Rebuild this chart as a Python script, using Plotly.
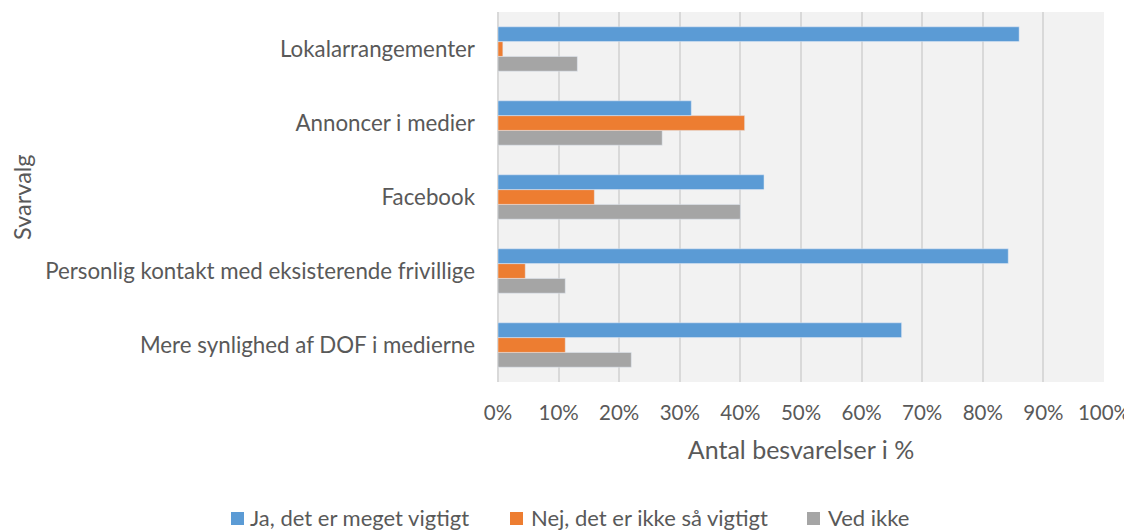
import plotly.graph_objects as go

categories = ["Mere synlighed af DOF i medierne",
              "Personlig kontakt med eksisterende frivillige",
              "Facebook",
              "Annoncer i medier",
              "Lokalarrangementer"]
ja = [66.6, 84.2, 43.9, 31.9, 86.0]
nej = [11.1, 4.5, 15.9, 40.7, 0.8]
ved_ikke = [22.0, 11.1, 40.0, 27.1, 13.1]
tick_vals = [0, 10, 20, 30, 40, 50, 60, 70, 80, 90, 100]
tick_text = [f"{v}%" for v in tick_vals]
series_names = ["Ja, det er meget vigtigt", "Nej, det er ikke så vigtigt", "Ved ikke"]
series_colors = ["#5B9BD5", "#ED7D31", "#A5A5A5"]

font_family = "Lato, Open Sans, sans-serif"
text_color = "#595959"

# page has 8px body margin -> figure is 8px smaller and shifted
OFF = 8
W, H = 1132 - OFF, 532 - OFF
L, R, T, B = 498 - OFF, 28, 12 - OFF, 150
plot_w = W - L - R
plot_h = H - T - B


def px_x(x):
    return (x - OFF - L) / plot_w


def px_y(y):
    return (H - B - (y - OFF)) / plot_h


fig = go.Figure()
for name, vals, color in [(series_names[2], ved_ikke, series_colors[2]),
                          (series_names[1], nej, series_colors[1]),
                          (series_names[0], ja, series_colors[0])]:
    fig.add_trace(go.Bar(y=categories, x=vals, name=name, orientation="h",
                         marker=dict(color=color), showlegend=False))

fig.update_layout(
    width=W, height=H,
    margin=dict(l=L, r=R, t=T, b=B, autoexpand=False),
    barmode="group", bargap=0.4, bargroupgap=0,
    plot_bgcolor="#F2F2F2", paper_bgcolor="white",
    font=dict(family=font_family, size=22, color=text_color),
    showlegend=False,
)
fig.update_xaxes(range=[0, 100], tickvals=tick_vals, ticktext=tick_text,
                 showgrid=True, gridcolor="#D9D9D9", gridwidth=1.5,
                 zeroline=True, zerolinecolor="#D9D9D9", zerolinewidth=1.5,
                 showline=False, ticks="", ticklabelstandoff=16, automargin=False,
                 tickfont=dict(size=20.5),
                 title=dict(text="Antal besvarelser i %", standoff=18,
                            font=dict(size=25, color=text_color)))
fig.update_yaxes(showgrid=False, ticks="", ticklabelstandoff=22, automargin=False,
                 tickfont=dict(size=22.3))
fig.add_annotation(text="Svarvalg", xref="paper", yref="paper",
                   x=px_x(22), y=0.5, xanchor="center", yanchor="middle",
                   textangle=-90, showarrow=False,
                   font=dict(size=23.5, color=text_color))

# custom legend (placement like the reference)
legend_square_x = [231, 510, 807]
legend_text_x = [248, 529, 826]
for name, color, sx, tx in zip(series_names, series_colors, legend_square_x, legend_text_x):
    fig.add_shape(type="rect", xref="paper", yref="paper",
                  x0=px_x(sx), x1=px_x(sx + 13), y0=px_y(525), y1=px_y(512),
                  fillcolor=color, line=dict(width=0))
    fig.add_annotation(text=name, xref="paper", yref="paper",
                       x=px_x(tx), y=px_y(517), xanchor="left", yanchor="middle",
                       showarrow=False, font=dict(size=22, color=text_color))

fig.write_html("out.html")
